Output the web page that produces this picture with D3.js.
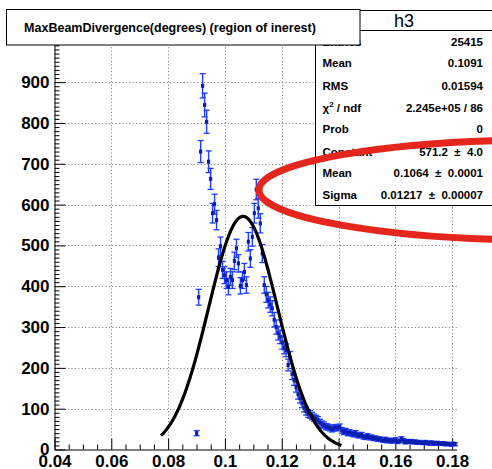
<!DOCTYPE html>
<html>
<head>
<meta charset="utf-8">
<script src="https://cdn.jsdelivr.net/npm/d3@7"></script>
<style>
  html, body { margin: 0; padding: 0; background: #fff; }
  svg { display: block; font-family: "Liberation Sans", Arial, Helvetica, sans-serif; }
</style>
</head>
<body>
<svg id="chart" width="492" height="469"></svg>
<script>
// Histogram h3: MaxBeamDivergence (degrees), bins with content only
const divergence = [
  0.09005, 0.09075, 0.09145, 0.09215, 0.09285, 0.09355, 0.09425, 0.09495, 0.09565, 0.09635,
  0.09705, 0.09775, 0.09845, 0.09915, 0.09985, 0.10055, 0.10125, 0.10195, 0.10265, 0.10335,
  0.10405, 0.10475, 0.10545, 0.10615, 0.10685, 0.10755, 0.10825, 0.10895, 0.10965, 0.11035,
  0.11105, 0.11175, 0.11245, 0.11315, 0.11385, 0.11455, 0.11525, 0.11595, 0.11665, 0.11735,
  0.11805, 0.11875, 0.11945, 0.12015, 0.12085, 0.12155, 0.12225, 0.12295, 0.12365, 0.12435,
  0.12505, 0.12575, 0.12645, 0.12715, 0.12785, 0.12855, 0.12925, 0.12995, 0.13065, 0.13135,
  0.13205, 0.13275, 0.13345, 0.13415, 0.13485, 0.13555, 0.13625, 0.13695, 0.13765, 0.13835,
  0.13905, 0.13975, 0.14045, 0.14115, 0.14185, 0.14255, 0.14325, 0.14395, 0.14465, 0.14535,
  0.14605, 0.14675, 0.14745, 0.14815, 0.14885, 0.14955, 0.15025, 0.15095, 0.15165, 0.15235,
  0.15305, 0.15375, 0.15445, 0.15515, 0.15585, 0.15655, 0.15725, 0.15795, 0.15865, 0.15935,
  0.16005, 0.16075, 0.16145, 0.16215, 0.16285, 0.16355, 0.16425, 0.16495, 0.16565, 0.16635,
  0.16705, 0.16775, 0.16845, 0.16915, 0.16985, 0.17055, 0.17125, 0.17195, 0.17265, 0.17335,
  0.17405, 0.17475, 0.17545, 0.17615, 0.17685, 0.17755, 0.17825, 0.17895, 0.17965, 0.18035,
  0.18105
];
const counts = [
  40, 373, 730, 891, 844, 803, 705, 663, 579, 601,
  562, 470, 498, 440, 427, 415, 399, 423, 415, 462,
  493, 456, 401, 415, 435, 403, 509, 468, 521, 579,
  637, 591, 554, 480, 403, 380, 366, 355, 346, 318,
  300, 285, 276, 262, 250, 243, 207, 225, 185, 170,
  153, 135, 125, 113, 102, 94, 88, 86, 82, 78,
  75, 72, 66, 62, 60, 56, 55, 53, 50, 52,
  54, 53, 55, 47, 43, 45, 40, 42, 39, 37,
  40, 35, 34, 36, 31, 30, 33, 29, 30, 27,
  28, 25, 26, 24, 22, 25, 21, 23, 20, 22,
  24, 19, 21, 26, 22, 18, 20, 19, 20, 18,
  19, 17, 18, 17, 16, 18, 16, 15, 17, 15,
  14, 16, 15, 14, 15, 13, 14, 13, 12, 14,
  13
];
// statistical uncertainty of each bin
const errors = [
  6.3, 19.3, 27.0, 29.8, 29.1, 28.3, 26.6, 25.7, 24.1, 24.5,
  23.7, 21.7, 22.3, 21.0, 20.7, 20.4, 20.0, 20.6, 20.4, 21.5,
  22.2, 21.4, 20.0, 20.4, 20.9, 20.1, 22.6, 21.6, 22.8, 24.1,
  25.2, 24.3, 23.5, 21.9, 20.1, 19.5, 19.1, 18.8, 18.6, 17.8,
  17.3, 16.9, 16.6, 16.2, 15.8, 15.6, 14.4, 15.0, 13.6, 13.0,
  12.4, 11.6, 11.2, 10.6, 10.1, 9.7, 9.4, 9.3, 9.1, 8.8,
  8.7, 8.5, 8.1, 7.9, 7.7, 7.5, 7.4, 7.3, 7.1, 7.2,
  7.3, 7.3, 7.4, 6.9, 6.6, 6.7, 6.3, 6.5, 6.2, 6.1,
  6.3, 5.9, 5.8, 6.0, 5.6, 5.5, 5.7, 5.4, 5.5, 5.2,
  5.3, 5.0, 5.1, 4.9, 4.7, 5.0, 4.6, 4.8, 4.5, 4.7,
  4.9, 4.4, 4.6, 5.1, 4.7, 4.2, 4.5, 4.4, 4.5, 4.2,
  4.4, 4.1, 4.2, 4.1, 4.0, 4.2, 4.0, 3.9, 4.1, 3.9,
  3.7, 4.0, 3.9, 3.7, 3.9, 3.6, 3.7, 3.6, 3.5, 3.7,
  3.6
];

// Gaussian fit result
const fitConstant = 571.2;
const fitMean = 0.1064;
const fitSigma = 0.01217;
const fitRange = [0.0775, 0.141];

// Axis ticks
const xTicks = [0.04, 0.06, 0.08, 0.10, 0.12, 0.14, 0.16, 0.18];
const xTickLabels = ["0.04", "0.06", "0.08", "0.1", "0.12", "0.14", "0.16", "0.18"];
const yTicks = [0, 100, 200, 300, 400, 500, 600, 700, 800, 900];
const yTickLabels = ["0", "100", "200", "300", "400", "500", "600", "700", "800", "900"];

// Statistics panel
const statsTitle = "h3";
const statLabels = ["Entries", "Mean", "RMS", "χ2 / ndf", "Prob", "Constant", "Mean", "Sigma"];
const statValues = ["25415", "0.1091", "0.01594", "2.245e+05 / 86", "0", "571.2 ± 4.0", "0.1064 ± 0.0001", "0.01217 ± 0.00007"];
const titleText = "MaxBeamDivergence(degrees) (region of inerest)";

(function draw() {
  const svg = d3.select("#chart");
  const pLeft = 54.5, pRight = 456.7, pTop = 45, pBottom = 449.5;

  const x = d3.scaleLinear().domain([0.04, 0.1816]).range([pLeft, pRight]);
  const y = d3.scaleLinear().domain([0, 991]).range([pBottom, pTop]);

  // Dotted grid
  const grid = svg.append("g").attr("stroke", "#707070").attr("stroke-width", 1).attr("stroke-dasharray", "1,2.4");
  grid.selectAll("line.gx").data(xTicks.slice(1)).join("line")
    .attr("x1", d => Math.round(x(d)) + 0.5).attr("x2", d => Math.round(x(d)) + 0.5)
    .attr("y1", pBottom).attr("y2", pTop);
  grid.selectAll("line.gy").data(yTicks.slice(1)).join("line")
    .attr("x1", pLeft).attr("x2", pRight)
    .attr("y1", d => Math.round(y(d)) + 0.5).attr("y2", d => Math.round(y(d)) + 0.5);

  // Minor ticks
  const xMinor = d3.range(0.045, 0.1816, 0.005).filter(v => Math.abs(v / 0.02 - Math.round(v / 0.02)) > 1e-6);
  svg.append("g").attr("transform", `translate(0,${pBottom})`)
    .call(d3.axisBottom(x).tickValues(xMinor).tickSizeInner(-5).tickSizeOuter(0).tickFormat(""))
    .call(g => g.select(".domain").remove())
    .selectAll("line").attr("stroke", "#000");
  const yMinor = d3.range(10, 991, 10).filter(v => v % 100 !== 0);
  svg.append("g").attr("transform", `translate(${pLeft},0)`)
    .call(d3.axisLeft(y).tickValues(yMinor).tickSizeInner(-5).tickSizeOuter(0).tickFormat(""))
    .call(g => g.select(".domain").remove())
    .selectAll("line").attr("stroke", "#000");

  // Major axes
  const xAxis = svg.append("g").attr("transform", `translate(0,${pBottom})`)
    .call(d3.axisBottom(x).tickValues(xTicks).tickSizeInner(-11).tickSizeOuter(0).tickPadding(5)
      .tickFormat((d, i) => xTickLabels[i]));
  const yAxis = svg.append("g").attr("transform", `translate(${pLeft},0)`)
    .call(d3.axisLeft(y).tickValues(yTicks).tickSizeInner(-11).tickSizeOuter(0).tickPadding(5)
      .tickFormat((d, i) => yTickLabels[i]));
  [xAxis, yAxis].forEach(a => {
    a.select(".domain").attr("stroke", "#000");
    a.selectAll("line").attr("stroke", "#000");
    a.selectAll("text").attr("font-size", 17).attr("font-weight", "bold")
      .attr("fill", "#000").attr("font-family", "Liberation Sans, Arial, sans-serif");
  });

  // Data points with error bars
  const pts = divergence.map((d, i) => ({ x: d, v: counts[i], e: errors[i] }));
  const bars = svg.append("g");
  bars.selectAll("line.err").data(pts).join("line").attr("class", "err")
    .attr("x1", d => x(d.x)).attr("x2", d => x(d.x))
    .attr("y1", d => y(d.v - d.e)).attr("y2", d => y(d.v + d.e))
    .attr("stroke", "#1f3cff").attr("stroke-width", 1.4);
  bars.selectAll("line.capt").data(pts).join("line").attr("class", "capt")
    .attr("x1", d => x(d.x) - 3).attr("x2", d => x(d.x) + 3)
    .attr("y1", d => y(d.v + d.e)).attr("y2", d => y(d.v + d.e))
    .attr("stroke", "#1f3cff").attr("stroke-width", 1.3);
  bars.selectAll("line.capb").data(pts).join("line").attr("class", "capb")
    .attr("x1", d => x(d.x) - 3).attr("x2", d => x(d.x) + 3)
    .attr("y1", d => y(d.v - d.e)).attr("y2", d => y(d.v - d.e))
    .attr("stroke", "#1f3cff").attr("stroke-width", 1.3);
  bars.selectAll("rect").data(pts).join("rect")
    .attr("x", d => x(d.x) - 1.6).attr("y", d => y(d.v) - 2)
    .attr("width", 3.2).attr("height", 4)
    .attr("fill", "#0a1fb0");

  // Fitted Gaussian
  const fitX = d3.range(fitRange[0], fitRange[1] + 1e-9, (fitRange[1] - fitRange[0]) / 200);
  const gauss = v => fitConstant * Math.exp(-0.5 * Math.pow((v - fitMean) / fitSigma, 2));
  svg.append("path")
    .attr("d", d3.line().x(d => x(d)).y(d => y(gauss(d)))(fitX))
    .attr("fill", "none").attr("stroke", "#000").attr("stroke-width", 3.2)
    .attr("stroke-linejoin", "round");

  // Statistics box
  const sb = svg.append("g").attr("font-family", "Liberation Sans, Arial, sans-serif").attr("font-weight", "bold");
  sb.append("rect").attr("x", 315.5).attr("y", 10.5).attr("width", 180).attr("height", 195)
    .attr("fill", "#fff").attr("stroke", "#000").attr("stroke-width", 1);
  sb.append("line").attr("x1", 315.5).attr("x2", 495).attr("y1", 30.5).attr("y2", 30.5)
    .attr("stroke", "#000");
  sb.append("text").attr("x", 404).attr("y", 27).attr("text-anchor", "middle")
    .attr("font-size", 18).attr("font-weight", "normal").text(statsTitle);
  const rowY = [41.7, 62.7, 86, 107.7, 129.3, 151.7, 172.7, 195];
  statLabels.forEach((lab, i) => {
    const t = sb.append("text").attr("x", 322.5).attr("y", rowY[i] + 4).attr("font-size", 11.5);
    if (lab.startsWith("χ2")) {
      t.append("tspan").text("χ");
      t.append("tspan").attr("font-size", 8).attr("dy", -4.5).text("2");
      t.append("tspan").attr("dy", 4.5).text(" / ndf");
    } else {
      t.text(lab);
    }
    sb.append("text").attr("x", 483).attr("y", rowY[i] + 4).attr("font-size", 11.5)
      .attr("text-anchor", "end").style("white-space", "pre")
      .text(statValues[i].replace(" ± ", "  ±  "));
  });

  // Title box
  const tb = svg.append("g");
  tb.append("rect").attr("x", 6.5).attr("y", 9.5).attr("width", 353.5).attr("height", 35.5)
    .attr("fill", "#fff").attr("stroke", "#000").attr("stroke-width", 1);
  tb.append("text").attr("x", 170).attr("y", 32).attr("text-anchor", "middle")
    .attr("font-size", 12.5).attr("font-weight", "bold")
    .attr("font-family", "Liberation Sans, Arial, sans-serif")
    .text(titleText);

  // Red ellipse annotation
  svg.append("ellipse").attr("cx", 545).attr("cy", 190).attr("rx", 286).attr("ry", 50)
    .attr("fill", "none").attr("stroke", "#e5261c").attr("stroke-width", 7);
})();
</script>
</body>
</html>
